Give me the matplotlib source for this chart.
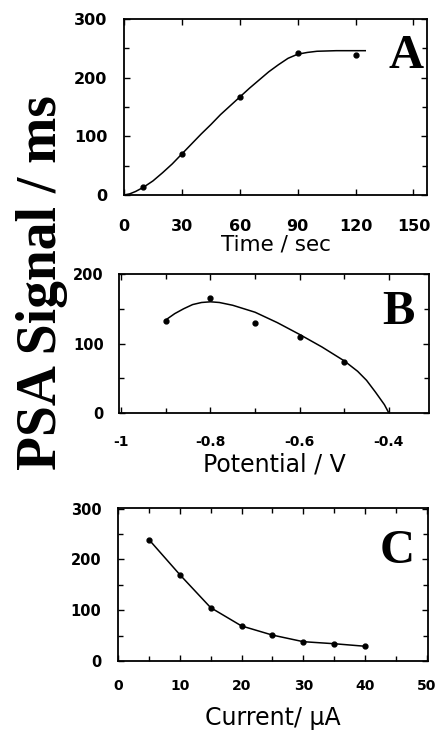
import matplotlib
matplotlib.use("Agg")
import matplotlib.pyplot as plt
from matplotlib.ticker import MultipleLocator

plt.rcParams['axes.unicode_minus'] = False
plt.rcParams['font.family'] = ['DejaVu Sans']

# ---- Panel A: time ----
time_pts = [10, 30, 60, 90, 120]
time_sig = [13, 70, 167, 242, 238]
time_curve_x = [0, 3, 6, 10, 15, 20, 25, 30, 35, 40, 45, 50, 55, 60, 65, 70,
                75, 80, 85, 90, 95, 100, 110, 125]
time_curve_y = [0, 2, 6, 13, 24, 38, 53, 70, 87, 104, 120, 137, 152, 167, 182, 196,
                210, 222, 233, 240, 243, 245, 246, 246]

# ---- Panel B: potential ----
pot_pts = [-0.9, -0.8, -0.7, -0.6, -0.5]
pot_sig = [133, 166, 130, 110, 74]
pot_curve_x = [-0.9, -0.88, -0.86, -0.84, -0.82, -0.8, -0.78, -0.75, -0.7, -0.65,
               -0.6, -0.55, -0.5, -0.47, -0.45, -0.43, -0.41, -0.4]
pot_curve_y = [134, 143, 150, 156, 159, 160, 159, 155, 145, 130,
               113, 95, 75, 60, 47, 30, 12, 0]

# ---- Panel C: current ----
cur_pts = [5, 10, 15, 20, 25, 30, 35, 40]
cur_sig = [239, 170, 105, 69, 51, 38, 34, 29]

W, H = 437, 731
fig = plt.figure(figsize=(W / 100, H / 100), dpi=100)

def make_ax(l, r, t, b):
    return fig.add_axes([l / W, 1 - b / H, (r - l) / W, (b - t) / H])

def style(ax, xpad, ypad, fs_x, fs_y):
    for s in ax.spines.values():
        s.set_linewidth(1.3)
    ax.tick_params(which='both', direction='in', top=True, right=True, width=1.0)
    ax.tick_params(which='major', length=4)
    ax.tick_params(which='minor', length=3.5)
    ax.tick_params(axis='x', pad=xpad, labelsize=fs_x)
    ax.tick_params(axis='y', pad=ypad, labelsize=fs_y)
    for lab in ax.get_xticklabels() + ax.get_yticklabels():
        lab.set_fontweight('bold')

def put_xlabel(ax, text, size, t, b, center_px):
    ax.set_xlabel(text, fontsize=size, va='center')
    ax.xaxis.set_label_coords(0.5, (b - center_px) / (b - t))

serif = ['Liberation Serif', 'DejaVu Serif']

# Panel A
axA = make_ax(124, 427, 19, 195)
axA.plot(time_curve_x, time_curve_y, color='black', lw=1.1)
axA.plot(time_pts, time_sig, 'o', color='black', ms=3.5)
axA.set_xlim(0, 157)
axA.set_ylim(0, 300)
axA.xaxis.set_major_locator(MultipleLocator(30))
axA.yaxis.set_major_locator(MultipleLocator(100))
axA.yaxis.set_minor_locator(MultipleLocator(50))
style(axA, 17, 12, 11.5, 11.5)
put_xlabel(axA, 'Time / sec', 15.5, 19, 195, 244)
axA.text(0.93, 0.79, 'A', transform=axA.transAxes, ha='center', va='center',
         fontsize=35, fontweight='bold', family=serif)

# Panel B
axB = make_ax(119, 429, 274, 413)
axB.plot(pot_curve_x, pot_curve_y, color='black', lw=1.1)
axB.plot(pot_pts, pot_sig, 'o', color='black', ms=3.5)
axB.set_xlim(-1.005, -0.31)
axB.set_ylim(0, 200)
axB.set_xticks([-1.0, -0.8, -0.6, -0.4])
axB.set_xticklabels(['-1', '-0.8', '-0.6', '-0.4'])
axB.xaxis.set_minor_locator(MultipleLocator(0.1))
axB.yaxis.set_major_locator(MultipleLocator(100))
axB.yaxis.set_minor_locator(MultipleLocator(50))
style(axB, 16, 11, 10, 10.5)
put_xlabel(axB, 'Potential / V', 17, 274, 413, 464)
axB.text(0.9, 0.73, 'B', transform=axB.transAxes, ha='center', va='center',
         fontsize=35, fontweight='bold', family=serif)

# Panel C
axC = make_ax(118, 428, 508, 661)
axC.plot(cur_pts, cur_sig, color='black', lw=1.1)
axC.plot(cur_pts, cur_sig, 'o', color='black', ms=3.5)
axC.set_xlim(0, 50.2)
axC.set_ylim(0, 301)
axC.xaxis.set_major_locator(MultipleLocator(10))
axC.xaxis.set_minor_locator(MultipleLocator(5))
axC.yaxis.set_major_locator(MultipleLocator(100))
axC.yaxis.set_minor_locator(MultipleLocator(50))
style(axC, 13, 12, 10, 10.5)
put_xlabel(axC, 'Current/ µA', 17, 508, 661, 718)
axC.text(0.9, 0.72, 'C', transform=axC.transAxes, ha='center', va='center',
         fontsize=35, fontweight='bold', family=serif)

# Shared big y label
fig.text(42 / W, 1 - 283 / H, 'PSA Signal / ms', rotation=90, ha='center', va='center',
         fontsize=40, fontweight='bold', family=serif)

fig.savefig('out.png', dpi=100)
